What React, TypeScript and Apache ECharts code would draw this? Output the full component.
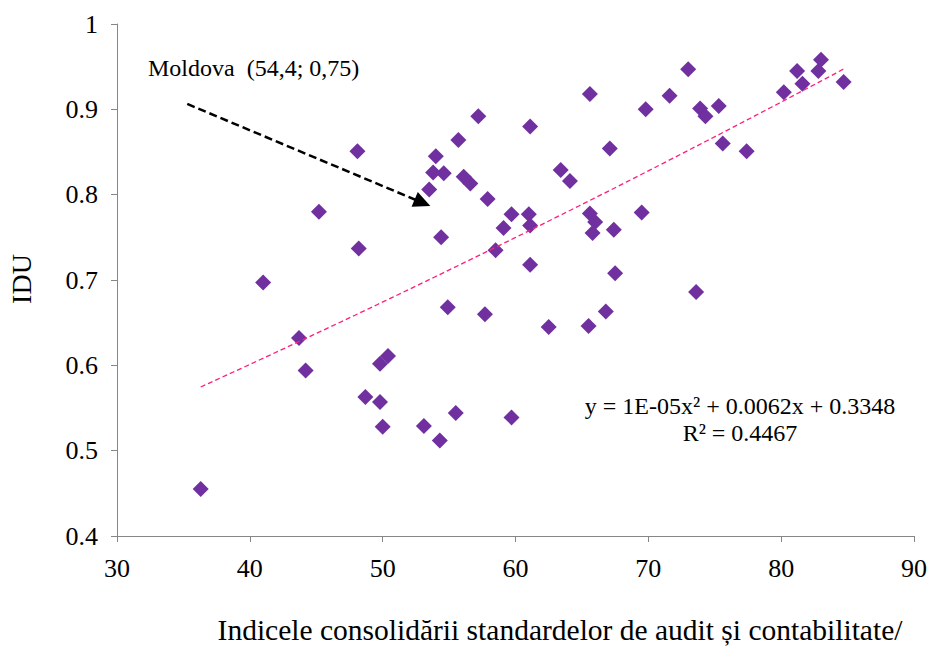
import React, { useEffect, useRef } from 'react';
import * as echarts from 'echarts';

// Indicele consolidării standardelor de audit și contabilitate (x) vs IDU (y)
const xValues: number[] = [
  36.3, 41.0, 43.7, 44.2, 45.2, 48.1, 48.2, 48.7, 49.8, 49.8,
  50.4, 50.0, 53.1, 54.3, 55.5, 59.7, 54.9, 57.7, 62.5, 65.5,
  66.8, 73.6, 67.5, 61.1, 58.5, 54.4, 59.1, 59.7, 61.0, 61.1,
  65.6, 66.0, 65.8, 67.4, 69.5, 53.5, 53.8, 54.6, 54.0, 55.7,
  56.1, 56.6, 57.9, 57.2, 61.1, 63.4, 64.1, 65.6, 67.1, 69.8,
  71.6, 73.0, 73.9, 74.3, 75.3, 75.6, 77.4, 80.2, 81.2, 81.6,
  82.8, 83.0, 84.7,
];
const yValues: number[] = [
  0.455, 0.697, 0.632, 0.594, 0.780, 0.851, 0.737, 0.563, 0.557, 0.602,
  0.611, 0.528, 0.529, 0.512, 0.544, 0.539, 0.668, 0.660, 0.645, 0.646,
  0.663, 0.686, 0.708, 0.718, 0.735, 0.750, 0.761, 0.777, 0.777, 0.764,
  0.778, 0.768, 0.755, 0.759, 0.779, 0.806, 0.826, 0.825, 0.845, 0.864,
  0.821, 0.813, 0.795, 0.892, 0.880, 0.829, 0.816, 0.918, 0.854, 0.900,
  0.916, 0.947, 0.901, 0.892, 0.904, 0.860, 0.851, 0.920, 0.945, 0.930,
  0.945, 0.958, 0.932,
];

const xAxisTitle = 'Indicele consolidării standardelor de audit și contabilitate/';
const yAxisTitle = 'IDU';
const annotationText = 'Moldova  (54,4; 0,75)';
const equationText = 'y = 1E-05x² + 0.0062x + 0.3348';
const r2Text = 'R² = 0.4467';

const FONT = '"Liberation Serif", "Times New Roman", serif';

// Least-squares quadratic fit (as Excel's polynomial trendline)
function quadFit(xs: number[], ys: number[]): [number, number, number] {
  let s0 = 0, s1 = 0, s2 = 0, s3 = 0, s4 = 0, t0 = 0, t1 = 0, t2 = 0;
  for (let i = 0; i < xs.length; i++) {
    const x = xs[i], y = ys[i];
    s0 += 1; s1 += x; s2 += x * x; s3 += x * x * x; s4 += x * x * x * x;
    t0 += y; t1 += x * y; t2 += x * x * y;
  }
  const m = [
    [s4, s3, s2, t2],
    [s3, s2, s1, t1],
    [s2, s1, s0, t0],
  ];
  for (let i = 0; i < 3; i++) {
    let p = i;
    for (let r = i + 1; r < 3; r++) if (Math.abs(m[r][i]) > Math.abs(m[p][i])) p = r;
    [m[i], m[p]] = [m[p], m[i]];
    for (let r = 0; r < 3; r++) {
      if (r === i) continue;
      const f = m[r][i] / m[i][i];
      for (let c = i; c < 4; c++) m[r][c] -= f * m[i][c];
    }
  }
  return [m[0][3] / m[0][0], m[1][3] / m[1][1], m[2][3] / m[2][2]];
}

export default function App() {
  const ref = useRef<HTMLDivElement>(null);

  useEffect(() => {
    document.body.style.margin = '0';
    if (!ref.current) return;
    const chart = echarts.init(ref.current, undefined, { renderer: 'svg' });

    const points = xValues.map((x, i) => [x, yValues[i]]);
    const [a, b, c] = quadFit(xValues, yValues);
    const xMin = Math.min(...xValues);
    const xMax = Math.max(...xValues);
    const trend: number[][] = [];
    const steps = 80;
    for (let i = 0; i <= steps; i++) {
      const x = xMin + ((xMax - xMin) * i) / steps;
      trend.push([x, a * x * x + b * x + c]);
    }

    const axisGray = '#868686';

    chart.setOption({
      animation: false,
      backgroundColor: '#ffffff',
      grid: { left: 117, right: 16, top: 24, bottom: 112, containLabel: false },
      xAxis: {
        type: 'value',
        min: 30,
        max: 90,
        interval: 10,
        axisLine: { show: true, lineStyle: { color: axisGray, width: 1 } },
        axisTick: { show: true, inside: false, length: 6, lineStyle: { color: axisGray } },
        splitLine: { show: false },
        axisLabel: { color: '#000', fontFamily: FONT, fontSize: 26, margin: 19 },
      },
      yAxis: {
        type: 'value',
        min: 0.4,
        max: 1,
        interval: 0.1,
        axisLine: { show: true, lineStyle: { color: axisGray, width: 1 } },
        axisTick: { show: true, inside: false, length: 6, lineStyle: { color: axisGray } },
        splitLine: { show: false },
        axisLabel: {
          color: '#000',
          fontFamily: FONT,
          fontSize: 26,
          margin: 19,
          formatter: (v: number) => (Math.abs(v - 1) < 1e-9 ? '1' : v.toFixed(1)),
        },
      },
      series: [
        {
          type: 'scatter',
          data: points,
          symbol: 'diamond',
          symbolSize: 16,
          itemStyle: { color: '#7030A0', opacity: 1 },
          silent: true,
          z: 2,
          markLine: {
            silent: true,
            symbol: ['none', 'triangle'],
            symbolSize: [16, 17],
            label: { show: false },
            lineStyle: { color: '#000', width: 2.5, type: [8, 4] },
            emphasis: { disabled: true },
            data: [[{ coord: [35.29, 0.9063] }, { coord: [53.0, 0.7905] }]],
          },
        },
        {
          type: 'line',
          data: trend,
          showSymbol: false,
          symbol: 'none',
          smooth: false,
          silent: true,
          z: 3,
          lineStyle: { color: '#FF1F7A', width: 1.3, type: [5, 3] },
        },
      ],
      graphic: [
        {
          type: 'text',
          x: 148,
          y: 68,
          style: { text: annotationText, font: `24px ${FONT}`, fill: '#000', verticalAlign: 'middle', align: 'left' },
        },
        {
          type: 'text',
          x: 740,
          y: 406,
          style: { text: equationText, font: `24px ${FONT}`, fill: '#000', verticalAlign: 'middle', align: 'center' },
        },
        {
          type: 'text',
          x: 740,
          y: 433,
          style: { text: r2Text, font: `24px ${FONT}`, fill: '#000', verticalAlign: 'middle', align: 'center' },
        },
        {
          type: 'text',
          x: 560,
          y: 630,
          style: { text: xAxisTitle, font: `29.5px ${FONT}`, fill: '#000', verticalAlign: 'middle', align: 'center' },
        },
        {
          type: 'text',
          x: 21,
          y: 279,
          rotation: Math.PI / 2,
          style: { text: yAxisTitle, font: `28px ${FONT}`, fill: '#000', verticalAlign: 'middle', align: 'center' },
        },
      ],
    });

    return () => chart.dispose();
  }, []);

  return <div ref={ref} style={{ width: 930, height: 648 }} />;
}
